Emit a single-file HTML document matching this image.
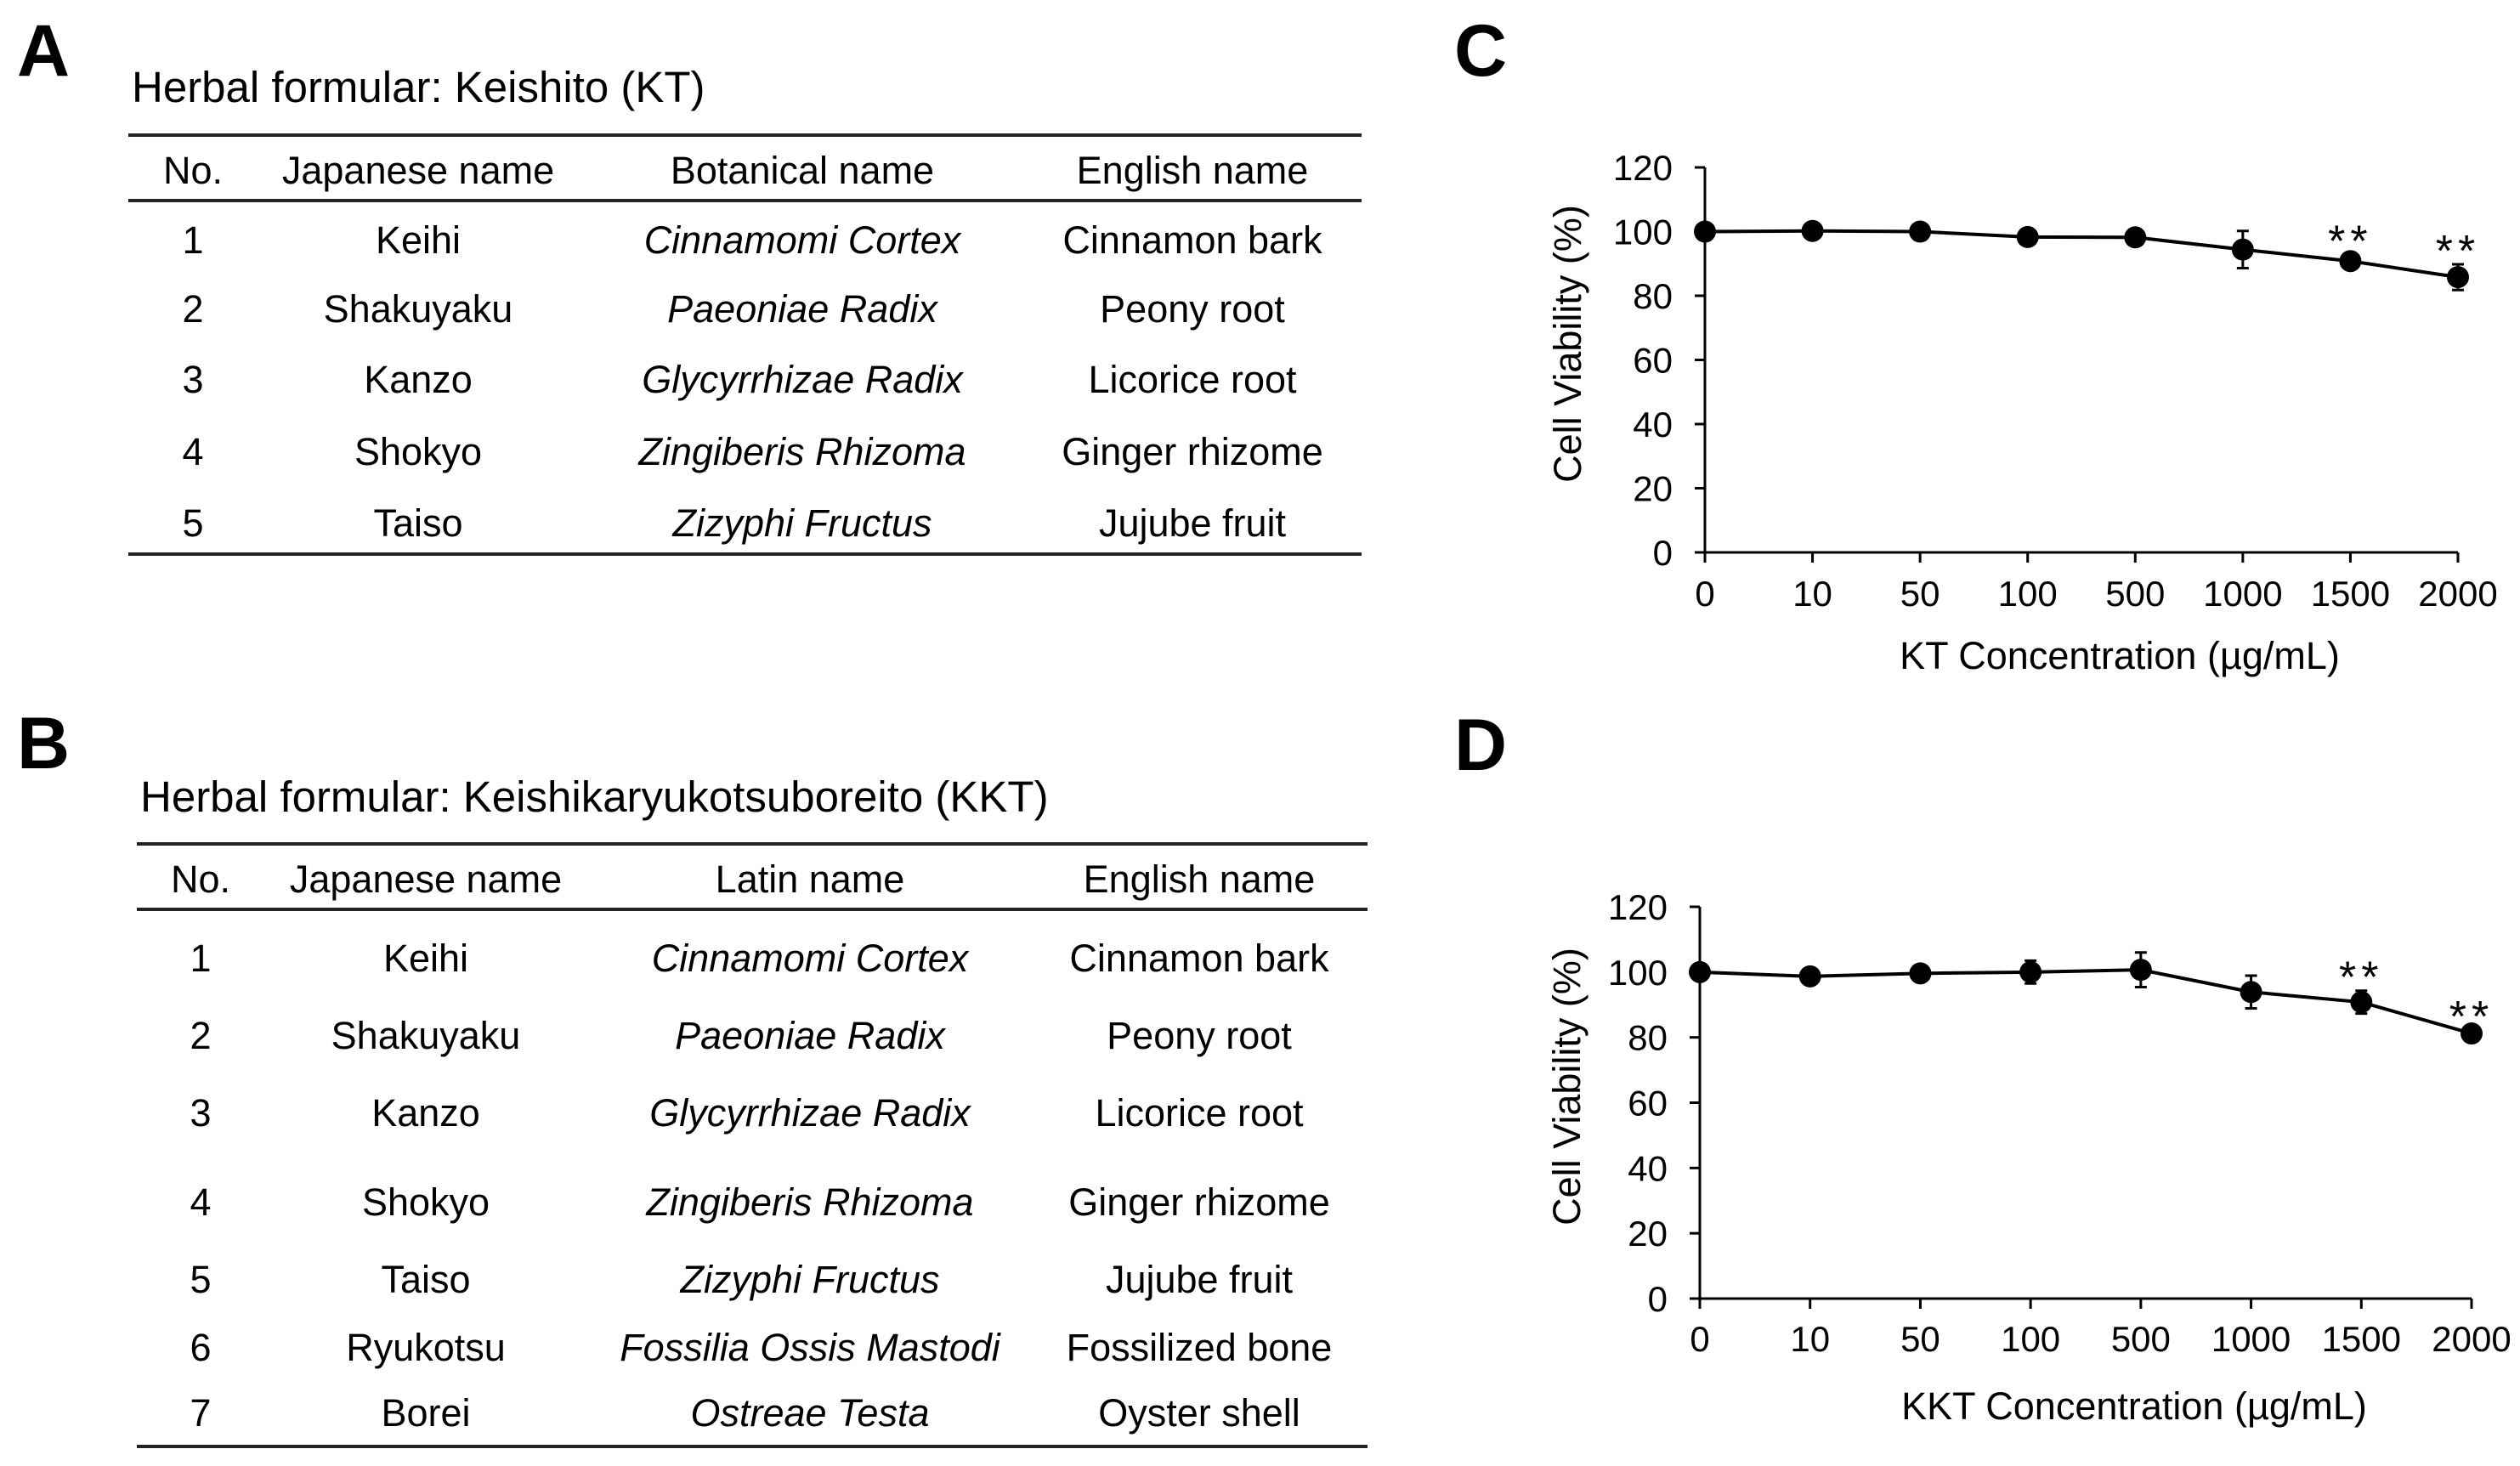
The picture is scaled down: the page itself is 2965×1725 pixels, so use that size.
<!DOCTYPE html>
<html><head><meta charset="utf-8"><style>
html,body{margin:0;padding:0;background:#fff;}
svg{display:block;font-family:"Liberation Sans",Arial,sans-serif;}
</style></head><body>
<svg id="fig" width="2965" height="1725" viewBox="0 0 2965 1725">
<g>
<text x="20" y="89" font-size="86" font-weight="bold">A</text>
<text x="155" y="120" font-size="51">Herbal formular: Keishito (KT)</text>
<line x1="151" x2="1602" y1="159" y2="159" stroke="#222" stroke-width="4"/>
<line x1="151" x2="1602" y1="236" y2="236" stroke="#222" stroke-width="4"/>
<line x1="151" x2="1602" y1="652" y2="652" stroke="#222" stroke-width="4"/>
<g font-size="45" text-anchor="middle" id="tabA"></g>
</g>
<g>
<text x="20" y="904" font-size="86" font-weight="bold">B</text>
<text x="165" y="955" font-size="51">Herbal formular: Keishikaryukotsuboreito (KKT)</text>
<line x1="161" x2="1609" y1="993" y2="993" stroke="#222" stroke-width="4"/>
<line x1="161" x2="1609" y1="1070" y2="1070" stroke="#222" stroke-width="4"/>
<line x1="161" x2="1609" y1="1702" y2="1702" stroke="#222" stroke-width="4"/>
<g font-size="45" text-anchor="middle" id="tabB"></g>
</g>
<text x="1711" y="89" font-size="86" font-weight="bold">C</text>
<text x="1711" y="906" font-size="86" font-weight="bold">D</text>
<g id="chartC"></g>
<g id="chartD"></g>
</svg>
<script>
const NS="http://www.w3.org/2000/svg";
const categories=["0","10","50","100","500","1000","1500","2000"];
const yTicks=[0,20,40,60,80,100,120];
const ktValues=[100,100.2,100,98.3,98.2,94.4,90.8,85.8];
const ktErrors=[1.5,1,1,2,2,5.8,2,4];
const ktStars=[false,false,false,false,false,false,true,true];
const kktValues=[100,98.7,99.6,100,100.7,93.9,90.8,81.2];
const kktErrors=[1,1,1,3.5,5.3,5,3.5,1];
const kktStars=[false,false,false,false,false,false,true,true];

const headA=["No.","Japanese name","Botanical name","English name"];
const rowsA=[["1","Keihi","Cinnamomi Cortex","Cinnamon bark"],["2","Shakuyaku","Paeoniae Radix","Peony root"],["3","Kanzo","Glycyrrhizae Radix","Licorice root"],["4","Shokyo","Zingiberis Rhizoma","Ginger rhizome"],["5","Taiso","Zizyphi Fructus","Jujube fruit"]];
const headB=["No.","Japanese name","Latin name","English name"];
const rowsB=[["1","Keihi","Cinnamomi Cortex","Cinnamon bark"],["2","Shakuyaku","Paeoniae Radix","Peony root"],["3","Kanzo","Glycyrrhizae Radix","Licorice root"],["4","Shokyo","Zingiberis Rhizoma","Ginger rhizome"],["5","Taiso","Zizyphi Fructus","Jujube fruit"],["6","Ryukotsu","Fossilia Ossis Mastodi","Fossilized bone"],["7","Borei","Ostreae Testa","Oyster shell"]];

function el(tag,attrs,parent,txt){const e=document.createElementNS(NS,tag);for(const k in attrs)e.setAttribute(k,attrs[k]);if(txt!==undefined)e.textContent=txt;parent.appendChild(e);return e;}

function table(gid,head,rows,cols,headY,rowYs){
  const g=document.getElementById(gid);
  head.forEach((h,i)=>{const t=el('text',{x:cols[i],y:headY+16},g,h);
    
    });
  rows.forEach((r,ri)=>r.forEach((c,i)=>{const a={x:cols[i],y:rowYs[ri]+16};if(i==2)a['font-style']='italic';
    const t=el('text',a,g,c);
    
    }));
}
table('tabA',headA,rowsA,[227,492,944,1403],200,[282,363,446,531,615]);
table('tabB',headB,rowsB,[236,501,953,1411],1034,[1127,1218,1309,1414,1505,1585,1662]);

function chart(gid,o,vals,errs,stars,title){
  const g=document.getElementById(gid);
  const xs=i=>o.x0+i*(o.x1-o.x0)/(categories.length-1);
  const ys=v=>o.y0-(v/120)*(o.y0-o.y120);
  const ax=el('line',{x1:o.x0,x2:o.x0,y1:o.y120,y2:o.y0,stroke:'#000','stroke-width':3},g);
  
  
  const bx=el('line',{x1:o.x0-12,x2:o.x1,y1:o.y0,y2:o.y0,stroke:'#000','stroke-width':3},g);
  
  
  yTicks.forEach(v=>{
    const tk=el('line',{x1:o.x0-12,x2:o.x0,y1:ys(v),y2:ys(v),stroke:'#000','stroke-width':3},g);
    
    
    const t=el('text',{x:o.x0-38,y:ys(v)+15,'font-size':42,'text-anchor':'end'},g,String(v));
    
    
  });
  categories.forEach((c,i)=>{
    const tk=el('line',{x1:xs(i),x2:xs(i),y1:o.y0,y2:o.y0+12,stroke:'#000','stroke-width':3},g);
    
    
    const t=el('text',{x:xs(i),y:o.xl,'font-size':42,'text-anchor':'middle'},g,c);
    
    
  });
  const pts=vals.map((v,i)=>xs(i)+','+ys(v)).join(' ');
  const pl=el('polyline',{points:pts,fill:'none',stroke:'#000','stroke-width':4},g);
  
  
  vals.forEach((v,i)=>{
    const x=xs(i),e=errs[i];
    const eb=el('path',{d:`M${x},${ys(v+e)}V${ys(v-e)}M${x-7},${ys(v+e)}H${x+7}M${x-7},${ys(v-e)}H${x+7}`,stroke:'#000','stroke-width':3,fill:'none'},g);
    
    
    const c=el('circle',{cx:x,cy:ys(v),r:13,fill:'#000'},g);
    
    
    if(stars[i]){
      const s=el('text',{x:x,y:ys(v+e)+2,'font-size':52,'text-anchor':'middle','letter-spacing':'6'},g,'**');
      
      
    }
  });
  const yl=el('text',{x:0,y:0,'font-size':45,'text-anchor':'middle',transform:`translate(${o.ylx},${(o.y0+o.y120)/2-19}) rotate(-90)`},g,'Cell Viability (%)');
  
  
  const xt=el('text',{x:(o.x0+o.x1)/2+o.xtShift,y:o.xt,'font-size':45,'text-anchor':'middle'},g,title);
  
  
}
chart('chartC',{x0:2006,x1:2892,y0:650,y120:197,xl:713,xt:787,ylx:1860,xtShift:45},ktValues,ktErrors,ktStars,'KT Concentration (µg/mL)');
chart('chartD',{x0:2000,x1:2908,y0:1528,y120:1067,xl:1590,xt:1670,ylx:1859,xtShift:57},kktValues,kktErrors,kktStars,'KKT Concentration (µg/mL)');
</script>
</body></html>
